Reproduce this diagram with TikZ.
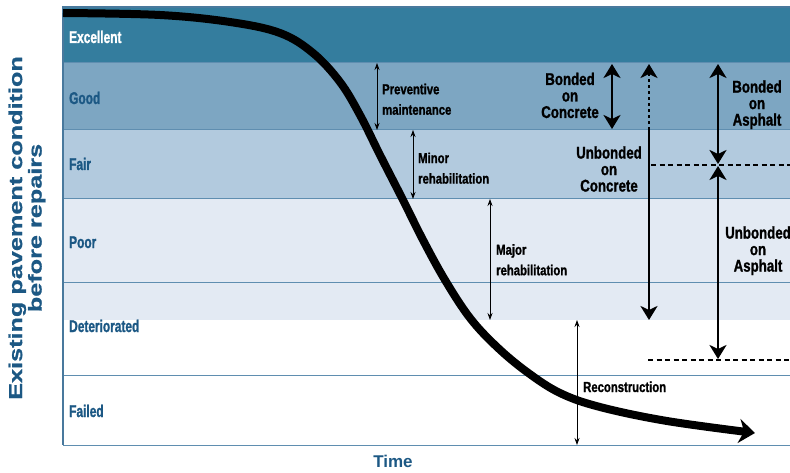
\documentclass[tikz,border=0pt]{standalone}
\usepackage{fontspec}
\setmainfont{Liberation Sans}
\newfontfamily\bandfont{Liberation Sans Bold}[FakeStretch=0.70,FakeBold=1.2]
\newfontfamily\notefont{Liberation Sans Bold}[FakeStretch=0.78,FakeBold=1.2]
\newfontfamily\widefont{Liberation Sans Bold}[FakeStretch=1.35,FakeBold=0.8]
\newfontfamily\boldfont{Liberation Sans Bold}
\usetikzlibrary{arrows.meta}

\definecolor{excl}{RGB}{52,125,158}
\definecolor{good}{RGB}{125,166,194}
\definecolor{fair}{RGB}{178,202,222}
\definecolor{poor}{RGB}{227,234,243}
\definecolor{gridblue}{RGB}{95,142,176}
\definecolor{labelblue}{RGB}{28,88,132}

\begin{document}
\begin{tikzpicture}[x=1pt,y=-1pt,
    band/.style={font=\bandfont\fontsize{17}{20}\selectfont,text=labelblue,anchor=base west,inner sep=0pt},
    note/.style={font=\notefont\fontsize{14.5}{20.5}\selectfont,align=left,inner sep=0pt},
    bignote/.style={font=\notefont\fontsize{17}{16.5}\selectfont,align=center,inner sep=0pt},
    dimarrow/.style={line width=0.8pt,{Stealth[length=7pt,width=5pt]}-{Stealth[length=7pt,width=5pt]}},
    bigarrow/.style={line width=2.6pt},
    bigtip/.tip={Stealth[length=14pt,width=17pt,inset=4pt]},
    limit/.style={line width=1.2pt,dash pattern=on 5pt off 3.5pt}]
    \useasboundingbox (0,0) rectangle (790,473);

    % condition bands
    \fill [excl] (63,7) rectangle (790,63);
    \fill [good] (63,63) rectangle (790,130);
    \fill [fair] (63,130) rectangle (790,199);
    \fill [poor] (63,199) rectangle (790,320);
    \foreach \y in {63,130,199,282,375,445} {
        \draw [line width=1pt,gridblue] (63,\y) -- (790,\y);
    }
    \draw [line width=1.2pt,labelblue!80] (790,7) -- (63,7) -- (63,445);

    \node [band,text=white] (excellent) at (69,43) {Excellent};
    \foreach \n/\y/\t in {good/104/Good,fair/170/Fair,poor/248/Poor,det/332/Deteriorated,failed/417/Failed} {
        \node [band] (\n) at (69,\y) {\t};
    }

    % axis titles
    \node [font=\widefont\fontsize{18.7}{19.5}\selectfont,text=labelblue,align=center,rotate=90,inner sep=0pt]
        (ylabel) at (27,228) {Existing pavement condition\\before repairs};
    \node [font=\boldfont\fontsize{17}{20}\selectfont,text=labelblue,anchor=base] (time) at (393,467) {Time};

    % deterioration curve
    \draw [line width=8pt,-{Stealth[length=16pt,width=24pt,inset=5pt]}]
        plot [smooth,tension=0.6] coordinates {(63,13) (160,15) (230,22) (280,33) (313,53) (340,82) (360,115)
        (380,155) (403,200) (423,240) (445,280) (470,318) (497,347) (527,372) (560,393) (600,407) (667,421) (755,433)};

    % repair windows
    \foreach \n/\x/\a/\b in {pm/377/63/130,minor/413/130/199,major/490/199/320,recon/577/320/445} {
        \coordinate (\n-top) at (\x,\a);
        \coordinate (\n-bot) at (\x,\b);
        \draw [dimarrow] (\n-top) -- (\n-bot);
    }
    \node [note,anchor=west] (pm-text) at (382,99.3) {Preventive\\maintenance};
    \node [note,anchor=west] (minor-text) at (418,168.2) {Minor\\rehabilitation};
    \node [note,anchor=west] (major-text) at (496,259.8) {Major\\rehabilitation};
    \node [note,anchor=base west] (recon-text) at (583,392) {Reconstruction};

    % overlays
    \coordinate (bc-top) at (612,64);
    \coordinate (bc-bot) at (612,129);
    \draw [bigarrow,bigtip-bigtip] (bc-top) -- (bc-bot);
    \node [bignote] (bc-text) at (570,95.4) {Bonded\\on\\Concrete};

    \coordinate (uc-top) at (649,64);
    \coordinate (uc-mid) at (649,130);
    \coordinate (uc-bot) at (649,320);
    \draw [bigarrow,bigtip-,dash pattern=on 3pt off 3pt] (uc-top) -- (uc-mid);
    \draw [bigarrow,-bigtip] (uc-mid) -- (uc-bot);
    \node [bignote] (uc-text) at (609,169) {Unbonded\\on\\Concrete};

    \coordinate (ba-top) at (718,64);
    \coordinate (ba-bot) at (718,164);
    \coordinate (ua-top) at (718,166);
    \coordinate (ua-bot) at (718,359);
    \draw [bigarrow,bigtip-bigtip] (ba-top) -- (ba-bot);
    \draw [bigarrow,bigtip-bigtip] (ua-top) -- (ua-bot);
    \node [bignote] (ba-text) at (757,104.7) {Bonded\\on\\Asphalt};
    \node [bignote] (ua-text) at (758,250.7) {Unbonded\\on\\Asphalt};

    \coordinate (lim1-a) at (651,165);
    \coordinate (lim1-b) at (790,165);
    \coordinate (lim2-a) at (648,360);
    \coordinate (lim2-b) at (790,360);
    \draw [limit] (lim1-a) -- (lim1-b);
    \draw [limit] (lim2-a) -- (lim2-b);
\end{tikzpicture}
\end{document}
